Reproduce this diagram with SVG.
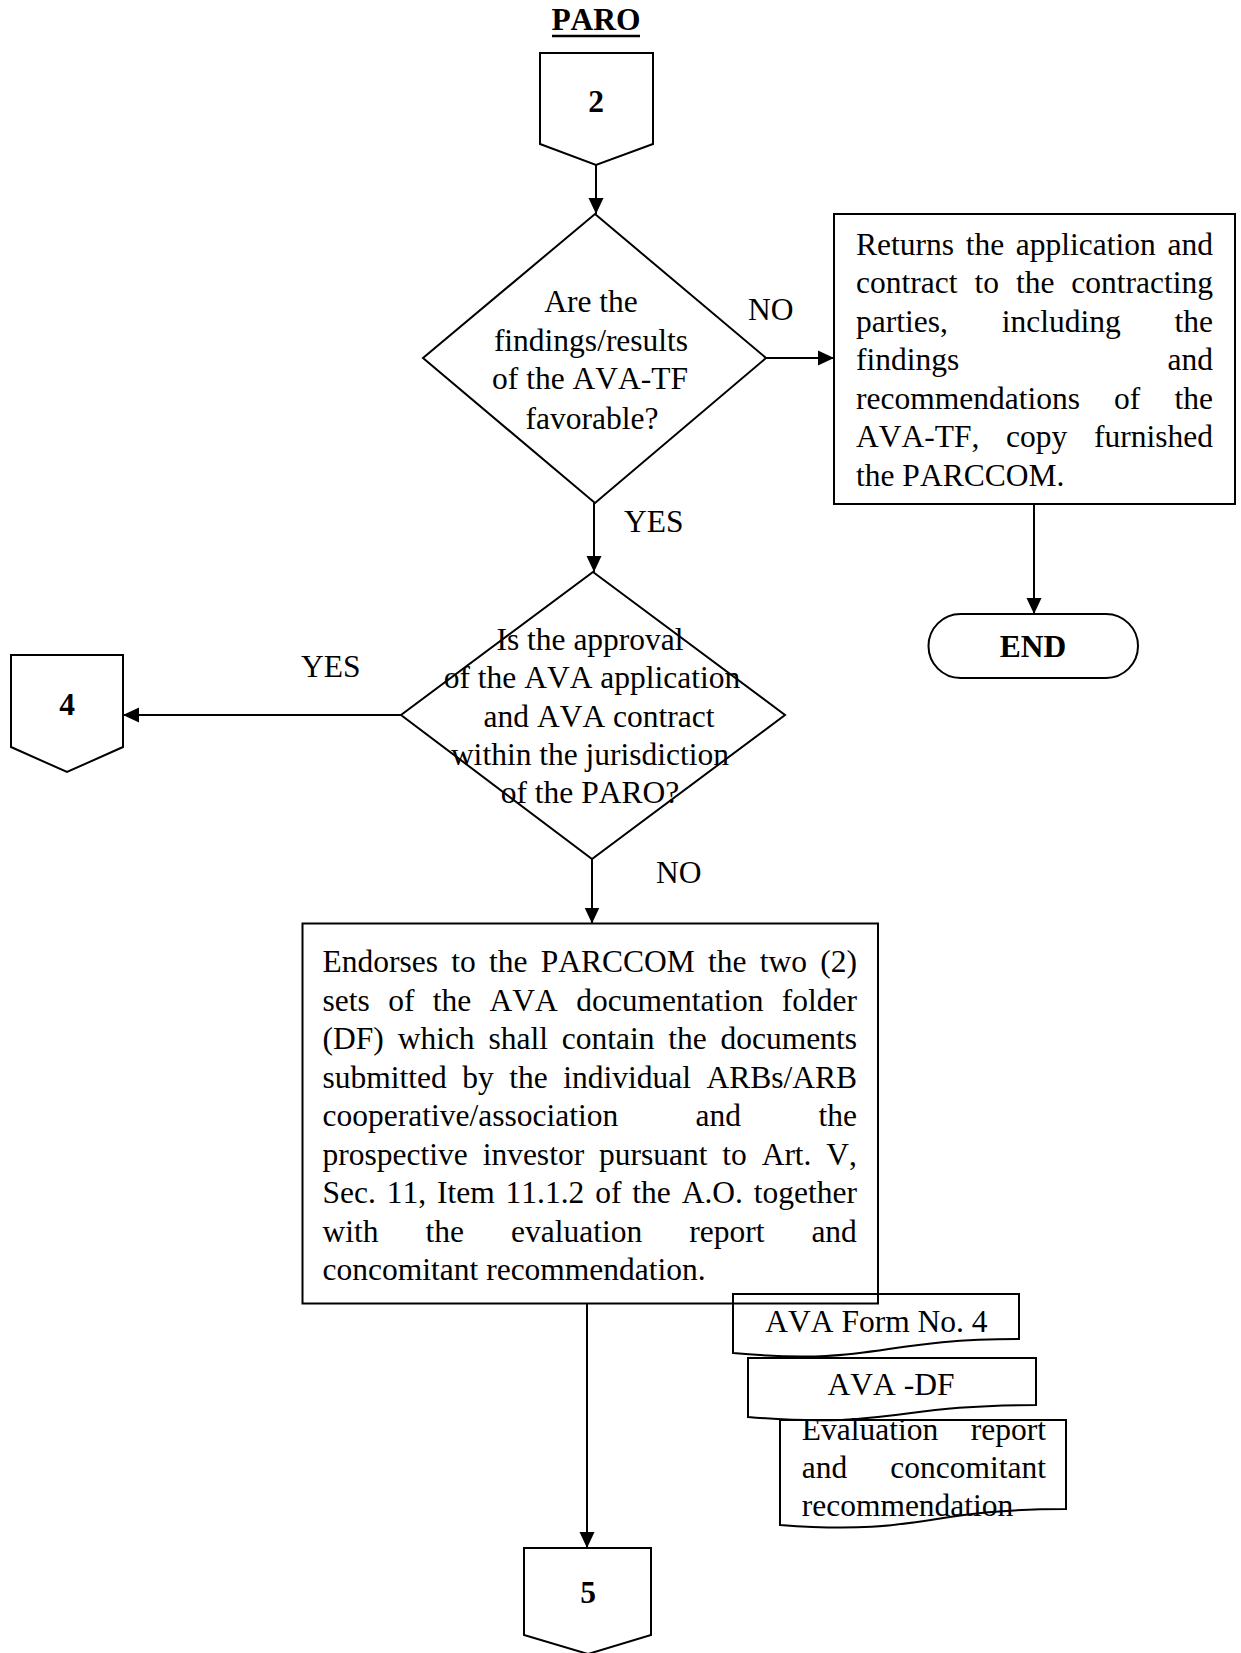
<svg xmlns="http://www.w3.org/2000/svg" width="1241" height="1653" viewBox="0 0 1241 1653">
  <style>
    .t { font-family: "Liberation Serif", "Times New Roman", serif; font-size: 31.5px; fill: #000; font-kerning: none; }
    .b { font-weight: bold; }
    .m { text-anchor: middle; }
    .s { fill: none; stroke: #000; stroke-width: 2; stroke-linejoin: miter; }
    #connectors line { stroke: #000; stroke-width: 2; marker-end: url(#ah); }
  </style>
  <defs>
    <marker id="ah" viewBox="0 0 16 16" markerWidth="16" markerHeight="16" refX="16" refY="8" orient="auto" markerUnits="userSpaceOnUse">
      <path d="M0,0.5 L16,8 L0,15.5 Z" fill="#000"/>
    </marker>
  </defs>
  <rect width="1241" height="1653" fill="#fff"/>

  <!-- heading -->
  <g id="title">
    <text class="t b m" x="596" y="30">PARO</text>
    <line x1="552" y1="36" x2="640" y2="36" stroke="#000" stroke-width="2.5"/>
  </g>

  <!-- off-page connector 2 -->
  <g id="conn2">
    <path class="s" d="M540,53 H653 V144 L596,165 L540,144 Z"/>
    <text class="t b m" x="596" y="112" font-size="30">2</text>
  </g>

  <!-- decision: AVA-TF findings -->
  <g id="decision1">
    <path class="s" d="M595,214 L766,358 L595,503 L423,358 Z"/>
    <text class="t m" x="591" y="312">Are the</text>
    <text class="t m" x="591" y="350.5">findings/results</text>
    <text class="t m" x="590" y="389">of the AVA-TF</text>
    <text class="t m" x="592" y="428.5">favorable?</text>
  </g>

  <!-- return to contracting parties -->
  <g id="returnBox">
    <rect class="s" x="834" y="214" width="401" height="290"/>
    <text class="t" x="856" y="254.5" word-spacing="3.8">Returns the application and</text>
    <text class="t" x="856" y="293" word-spacing="9.1">contract to the contracting</text>
    <text class="t" x="856" y="331.5" word-spacing="46">parties, including the</text>
    <text class="t" x="856" y="370" word-spacing="200.4">findings and</text>
    <text class="t" x="856" y="408.5" word-spacing="26.3">recommendations of the</text>
    <text class="t" x="856" y="447" word-spacing="18.8">AVA-TF, copy furnished</text>
    <text class="t" x="856" y="485.5">the PARCCOM.</text>
  </g>

  <!-- terminator -->
  <g id="end">
    <rect class="s" x="928.5" y="614" width="209.5" height="64" rx="32" ry="32"/>
    <text class="t b m" x="1033" y="657" font-size="30">END</text>
  </g>

  <!-- decision: jurisdiction of the PARO -->
  <g id="decision2">
    <path class="s" d="M593,572 L785,715 L592,859 L401,715 Z"/>
    <text class="t m" x="590" y="650">Is the approval</text>
    <text class="t m" x="592" y="688">of the AVA application</text>
    <text class="t m" x="599" y="727">and AVA contract</text>
    <text class="t m" x="590" y="765">within the jurisdiction</text>
    <text class="t m" x="590" y="803">of the PARO?</text>
  </g>

  <!-- off-page connector 4 -->
  <g id="conn4">
    <path class="s" d="M11,655 H123 V747 L67,772 L11,747 Z"/>
    <text class="t b m" x="67" y="715" font-size="30">4</text>
  </g>

  <!-- endorsement to PARCCOM -->
  <g id="endorseBox">
    <rect class="s" x="302.5" y="923.5" width="575.5" height="380"/>
    <text class="t" x="322.6" y="972" word-spacing="5.36">Endorses to the PARCCOM the two (2)</text>
    <text class="t" x="322.6" y="1010.5" word-spacing="10.47">sets of the AVA documentation folder</text>
    <text class="t" x="322.6" y="1049" word-spacing="5.92">(DF) which shall contain the documents</text>
    <text class="t" x="322.6" y="1087.5" word-spacing="7.58">submitted by the individual ARBs/ARB</text>
    <text class="t" x="322.6" y="1126" word-spacing="69.5">cooperative/association and the</text>
    <text class="t" x="322.6" y="1164.5" word-spacing="6.97">prospective investor pursuant to Art. V,</text>
    <text class="t" x="322.6" y="1203" word-spacing="2.98">Sec. 11, Item 11.1.2 of the A.O. together</text>
    <text class="t" x="322.6" y="1241.5" word-spacing="39.1">with the evaluation report and</text>
    <text class="t" x="322.6" y="1280">concomitant recommendation.</text>
  </g>

  <!-- supporting documents -->
  <g id="docForm4">
    <path class="s" d="M733,1294 H1019 V1339 C876,1339 876,1366 733,1353 Z"/>
    <text class="t m" x="876.5" y="1332">AVA Form No. 4</text>
  </g>
  <g id="docDF">
    <path class="s" d="M748,1358 H1036 V1405 C892,1405 892,1429 748,1417 Z"/>
    <text class="t m" x="891" y="1395">AVA -DF</text>
  </g>
  <g id="docEval">
    <path class="s" d="M780,1420 H1066 V1509 C923,1509 923,1536 780,1525 Z"/>
    <text class="t" x="801.7" y="1440" word-spacing="24.7">Evaluation report</text>
    <text class="t" x="801.7" y="1478" word-spacing="35.2">and concomitant</text>
    <text class="t" x="801.7" y="1516">recommendation</text>
  </g>

  <!-- off-page connector 5 -->
  <g id="conn5">
    <path class="s" d="M524,1548 H651 V1635 L588,1654 L524,1635 Z"/>
    <text class="t b m" x="588" y="1603" font-size="30">5</text>
  </g>

  <!-- branch labels -->
  <g id="labels">
    <text class="t" x="748" y="320">NO</text>
    <text class="t" x="624" y="532">YES</text>
    <text class="t" x="301" y="677">YES</text>
    <text class="t" x="656" y="883">NO</text>
  </g>

  <!-- flow arrows -->
  <g id="connectors">
    <line x1="596" y1="165" x2="596" y2="214"/>
    <line x1="766" y1="358" x2="834" y2="358"/>
    <line x1="1034" y1="504" x2="1034" y2="614"/>
    <line x1="594" y1="503" x2="594" y2="572"/>
    <line x1="401" y1="715" x2="123" y2="715"/>
    <line x1="592" y1="859" x2="592" y2="923.5"/>
    <line x1="587" y1="1303.5" x2="587" y2="1548"/>
  </g>
</svg>
